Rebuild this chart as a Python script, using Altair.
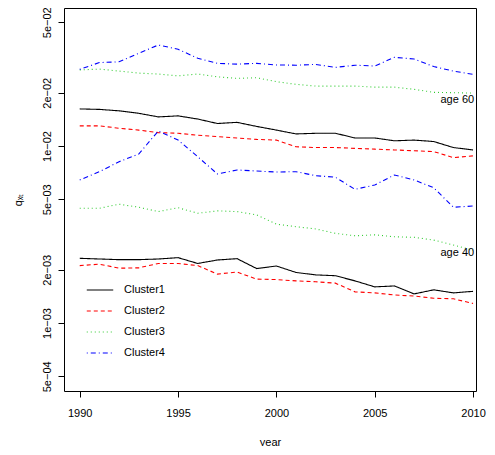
import altair as alt
import pandas as pd

years = list(range(1990, 2011))
c1_60 = [0.0162,0.0161,0.0158,0.0153,0.0146,0.0148,0.0142,0.0134,0.0136,0.0129,0.0123,0.0117,0.0118,0.0118,0.0111,0.0111,0.0107,0.0108,0.0106,0.0098,0.0095]
c2_60 = [0.0130,0.0130,0.0126,0.0123,0.0119,0.0118,0.0115,0.0113,0.0111,0.0109,0.0108,0.0099,0.0098,0.0098,0.0097,0.0096,0.0095,0.0094,0.0093,0.0086,0.0088]
c3_60 = [0.0269,0.0272,0.0265,0.0258,0.0255,0.0249,0.0255,0.0246,0.0241,0.0243,0.0231,0.0223,0.0218,0.0218,0.0218,0.0215,0.0215,0.0209,0.0201,0.0200,0.0199]
c4_60 = [0.0271,0.0296,0.0299,0.0334,0.0372,0.0352,0.0313,0.0293,0.0290,0.0293,0.0287,0.0286,0.0289,0.0278,0.0286,0.0283,0.0317,0.0310,0.0281,0.0265,0.0254]
c1_40 = [0.00232,0.00230,0.00228,0.00228,0.00230,0.00234,0.00217,0.00227,0.00231,0.00203,0.00210,0.00193,0.00187,0.00185,0.00173,0.00160,0.00162,0.00146,0.00154,0.00148,0.00151]
c2_40 = [0.00211,0.00215,0.00204,0.00205,0.00217,0.00217,0.00211,0.00189,0.00194,0.00177,0.00176,0.00173,0.00171,0.00168,0.00150,0.00148,0.00144,0.00142,0.00138,0.00137,0.00129]
c3_40 = [0.00445,0.00445,0.00469,0.00451,0.00426,0.00448,0.00417,0.00430,0.00426,0.00408,0.00362,0.00350,0.00340,0.00321,0.00311,0.00315,0.00307,0.00305,0.00294,0.00276,0.00258]
c4_40 = [0.00643,0.00716,0.00815,0.00901,0.01216,0.01081,0.00870,0.00695,0.00732,0.00722,0.00713,0.00716,0.00680,0.00666,0.00569,0.00602,0.00686,0.00643,0.00581,0.00451,0.00458]

clusters = ["Cluster1", "Cluster2", "Cluster3", "Cluster4"]
colors = ["black", "red", "#33cc33", "blue"]
dashes = [[1, 0], [4, 3], [1, 3], [1, 3, 5, 3]]
y_ticks = [0.0005, 0.001, 0.002, 0.005, 0.01, 0.02, 0.05]
y_labels = ["5e\u221204", "1e\u221203", "2e\u221203", "5e\u221203", "1e\u221202", "2e\u221202", "5e\u221202"]
ann_text = ["age 60", "age 40"]
ann_year = [2009.2, 2009.2]
ann_val = [0.0182, 0.00249]

series = {("Cluster1", 60): c1_60, ("Cluster2", 60): c2_60, ("Cluster3", 60): c3_60, ("Cluster4", 60): c4_60,
          ("Cluster1", 40): c1_40, ("Cluster2", 40): c2_40, ("Cluster3", 40): c3_40, ("Cluster4", 40): c4_40}
rows = []
for (c, a), vals in series.items():
    for yr, v in zip(years, vals):
        rows.append({"cluster": c, "age": a, "year": yr, "q": v})
df = pd.DataFrame(rows)

label_expr = "{" + ",".join(f"'{t}':'{l}'" for t, l in zip(y_ticks, y_labels)) + "}[datum.value]"
FONT = "Liberation Sans"

xs = alt.Scale(domain=[1989.2, 2010.15], nice=False, zero=False)
ys = alt.Scale(type="log", domain=[0.000413, 0.0602], nice=False)

lines = alt.Chart(df).mark_line(strokeWidth=1.1).encode(
    x=alt.X("year:Q", scale=xs, axis=alt.Axis(values=[1990,1995,2000,2005,2010], format="d", title="year",
            grid=False, domain=False, tickColor="black", tickSize=6, labelPadding=10, titlePadding=18,
            labelFontSize=11, titleFontSize=11, labelFont=FONT, titleFont=FONT, labelColor="black",
            titleColor="black", titleFontWeight="normal")),
    y=alt.Y("q:Q", scale=ys, axis=alt.Axis(values=y_ticks, labelExpr=label_expr, title="q\u2093\u209c",
            grid=False, domain=False, tickColor="black", tickSize=6, labelAngle=-90, labelAlign="center",
            labelBaseline="bottom", labelPadding=6, titlePadding=18, labelFontSize=11, titleFontSize=11,
            labelFont=FONT, titleFont=FONT, labelColor="black", titleColor="black", titleFontWeight="normal")),
    color=alt.Color("cluster:N", scale=alt.Scale(domain=clusters, range=colors),
            legend=alt.Legend(title=None, orient="none", legendX=22, legendY=268, symbolType="stroke",
                              symbolSize=700, symbolStrokeWidth=1.2, labelFontSize=11, labelFont=FONT,
                              labelColor="black", rowPadding=2, symbolOffset=0, labelOffset=10)),
    strokeDash=alt.StrokeDash("cluster:N", scale=alt.Scale(domain=clusters, range=dashes), legend=None),
    detail="age:N",
)

ann = alt.Chart(pd.DataFrame({"t": ann_text, "year": ann_year, "q": ann_val})).mark_text(
    fontSize=11, font=FONT, color="black").encode(x=alt.X("year:Q", scale=xs), y=alt.Y("q:Q", scale=ys), text="t:N")

chart = (lines + ann).properties(width=412, height=383).configure_view(stroke="black", strokeWidth=1).properties(
    padding={"left": 56, "top": 0, "right": 11, "bottom": 55}, autosize="none", background="white")
chart.save("out.html", embed_options={"renderer": "svg", "actions": False})
